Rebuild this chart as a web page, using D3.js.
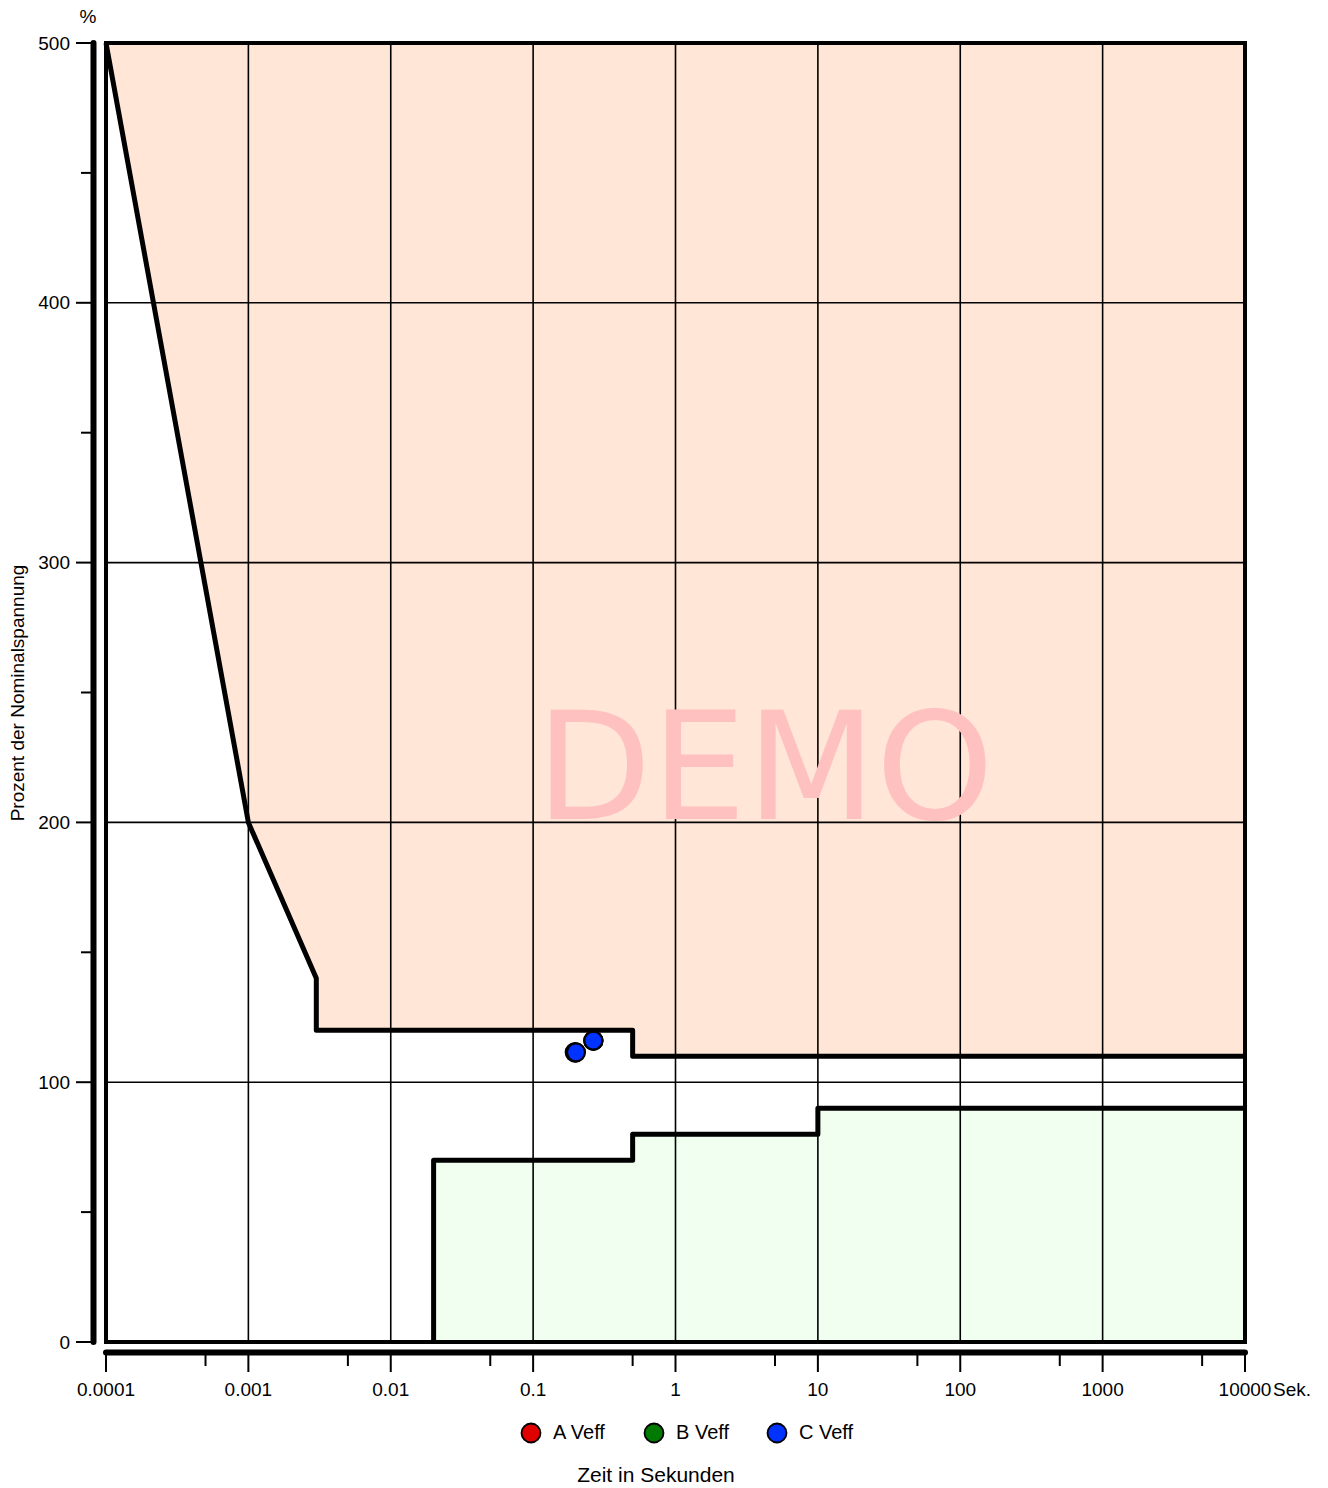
<!DOCTYPE html>
<html><head><meta charset="utf-8">
<script src="https://cdn.jsdelivr.net/npm/d3@7"></script>
<style>body{margin:0;background:#fff}svg{display:block}text{font-family:"Liberation Sans",Arial,sans-serif;fill:#000}</style>
</head><body>
<script>
// ---- data ----
const xTickValues = [0.0001, 0.001, 0.01, 0.1, 1, 10, 100, 1000, 10000];
const xTickLabels = ["0.0001", "0.001", "0.01", "0.1", "1", "10", "100", "1000", "10000"];
const xMinorTicks = [0.0005, 0.005, 0.05, 0.5, 5, 50, 500, 5000];
const yTickValues = [0, 100, 200, 300, 400, 500];
const yMinorTicks = [50, 150, 250, 350, 450];
// upper limit curve (overvoltage) [time s, percent]
const upperCurve = [[0.0001, 500], [0.001, 200], [0.003, 140], [0.003, 120], [0.5, 120], [0.5, 110], [10000, 110]];
// lower limit curve (undervoltage)
const lowerCurve = [[0.02, 0], [0.02, 70], [0.5, 70], [0.5, 80], [10, 80], [10, 90], [10000, 90]];
const seriesNames = ["A Veff", "B Veff", "C Veff"];
const seriesColors = ["#e00000", "#007a00", "#0033ff"];
const pointsA = [[0.196, 111.5], [0.265, 116]];
const pointsB = [[0.198, 111.5], [0.265, 116]];
const pointsC = [[0.2, 111.5], [0.265, 116]];

const W = 1328, H = 1488;
const svg = d3.select("body").append("svg").attr("width", W).attr("height", H);
const x = d3.scaleLog().domain([0.0001, 10000]).range([106, 1245]);
const y = d3.scaleLinear().domain([0, 500]).range([1342, 43]);

// fills
const upperPoly = upperCurve.concat([[10000, 500]]);
svg.append("path").attr("d", d3.line().x(d => x(d[0])).y(d => y(d[1]))(upperPoly) + "Z")
  .attr("fill", "#ffe6d7").attr("stroke", "none");
const lowerPoly = lowerCurve.concat([[10000, 0]]);
svg.append("path").attr("d", d3.line().x(d => x(d[0])).y(d => y(d[1]))(lowerPoly) + "Z")
  .attr("fill", "#f0fff0").attr("stroke", "none");

// grid
svg.append("g").selectAll("line").data(xTickValues.slice(1, -1)).join("line")
  .attr("x1", d => x(d)).attr("x2", d => x(d)).attr("y1", y(500)).attr("y2", y(0))
  .attr("stroke", "#000").attr("stroke-width", 1.6);
svg.append("g").selectAll("line").data(yTickValues.slice(1, -1)).join("line")
  .attr("x1", x(0.0001)).attr("x2", x(10000)).attr("y1", d => y(d)).attr("y2", d => y(d))
  .attr("stroke", "#000").attr("stroke-width", 1.6);

// watermark
svg.append("text").attr("x", 765).attr("y", 819).attr("text-anchor", "middle")
  .style("font-family", "'DejaVu Sans',sans-serif").style("font-size", "150px").style("fill", "#ffc0c0")
  .text("DEMO");

// border
svg.append("rect").attr("x", x(0.0001)).attr("y", y(500)).attr("width", x(10000) - x(0.0001)).attr("height", y(0) - y(500))
  .attr("fill", "none").attr("stroke", "#000").attr("stroke-width", 4);

// curves
const line = d3.line().x(d => x(d[0])).y(d => y(d[1]));
[upperCurve, lowerCurve].forEach(c => svg.append("path").attr("d", line(c)).attr("fill", "none")
  .attr("stroke", "#000").attr("stroke-width", 5).attr("stroke-linejoin", "round"));

// points
[pointsA, pointsB, pointsC].forEach((pts, i) => {
  svg.append("g").selectAll("circle").data(pts).join("circle")
    .attr("cx", d => x(d[0])).attr("cy", d => y(d[1])).attr("r", 9)
    .attr("fill", seriesColors[i]).attr("stroke", "#000").attr("stroke-width", 2.2);
});

// Y axis
const yAxisX = 93.5;
svg.append("line").attr("x1", yAxisX).attr("x2", yAxisX).attr("y1", y(500)).attr("y2", y(0))
  .attr("stroke", "#000").attr("stroke-width", 6).attr("stroke-linecap", "round");
svg.append("g").selectAll("line").data(yTickValues).join("line")
  .attr("x1", 76).attr("x2", yAxisX).attr("y1", d => y(d)).attr("y2", d => y(d)).attr("stroke", "#000").attr("stroke-width", 2);
svg.append("g").selectAll("line").data(yMinorTicks).join("line")
  .attr("x1", 81).attr("x2", yAxisX).attr("y1", d => y(d)).attr("y2", d => y(d)).attr("stroke", "#000").attr("stroke-width", 2);
svg.append("g").selectAll("text").data(yTickValues).join("text")
  .attr("x", 70).attr("y", d => y(d) + 6.5).attr("text-anchor", "end").style("font-size", "19px").text(d => d);
svg.append("text").attr("x", 88).attr("y", 23).attr("text-anchor", "middle").style("font-size", "19px").text("%");
svg.append("text").attr("transform", `translate(24,693) rotate(-90)`).attr("text-anchor", "middle")
  .style("font-size", "19px").text("Prozent der Nominalspannung");

// X axis
const xAxisY = 1352.5;
svg.append("line").attr("x1", x(0.0001)).attr("x2", x(10000)).attr("y1", xAxisY).attr("y2", xAxisY)
  .attr("stroke", "#000").attr("stroke-width", 6).attr("stroke-linecap", "round");
svg.append("g").selectAll("line").data(xTickValues).join("line")
  .attr("x1", d => x(d)).attr("x2", d => x(d)).attr("y1", xAxisY).attr("y2", 1372).attr("stroke", "#000").attr("stroke-width", 2);
svg.append("g").selectAll("line").data(xMinorTicks).join("line")
  .attr("x1", d => x(d)).attr("x2", d => x(d)).attr("y1", xAxisY).attr("y2", 1366).attr("stroke", "#000").attr("stroke-width", 2);
svg.append("g").selectAll("text").data(xTickValues).join("text")
  .attr("x", d => x(d)).attr("y", 1396).attr("text-anchor", "middle").style("font-size", "19px")
  .text((d, i) => xTickLabels[i]);
svg.append("text").attr("x", 1273).attr("y", 1396).style("font-size", "19px").text("Sek.");

// legend
const legX = [531, 654, 777];
seriesNames.forEach((n, i) => {
  svg.append("circle").attr("cx", legX[i]).attr("cy", 1433).attr("r", 9.5)
    .attr("fill", seriesColors[i]).attr("stroke", "#000").attr("stroke-width", 1.8);
  svg.append("text").attr("x", legX[i] + 22).attr("y", 1439).style("font-size", "20px").text(n);
});
svg.append("text").attr("x", 656).attr("y", 1482).attr("text-anchor", "middle").style("font-size", "21px").text("Zeit in Sekunden");
</script>
</body></html>
